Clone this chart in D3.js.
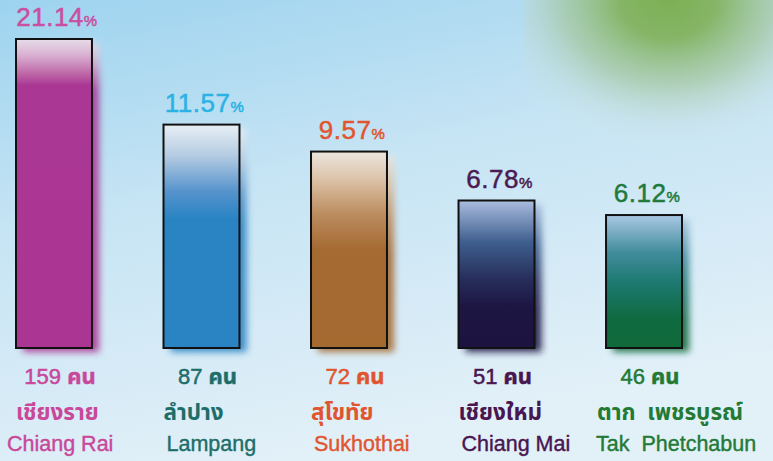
<!DOCTYPE html>
<html>
<head>
<meta charset="utf-8">
<script src="https://cdn.jsdelivr.net/npm/d3@7"></script>
<style>
  html, body { margin: 0; padding: 0; }
  body { width: 773px; height: 461px; overflow: hidden; }
</style>
</head>
<body>
<div id="chart"></div>
<script>
// data
const provincesEn = ["Chiang Rai", "Lampang", "Sukhothai", "Chiang Mai", "Tak  Phetchabun"];
const provincesTh = ["เชียงราย", "ลำปาง", "สุโขทัย", "เชียงใหม่", "ตาก  เพชรบูรณ์"];
const percents = [21.14, 11.57, 9.57, 6.78, 6.12];
const counts = [159, 87, 72, 51, 46];

// palette per bar
const labelColors = ["#c94fa0", "#2ab2e4", "#e0552f", "#4a1a52", "#1f7a3c"];
const nameColors = ["#c8489a", "#1d6e69", "#e0552f", "#481650", "#237a35"];
const barStops = [
    [[0, "#e7dce8"], [0.05, "#d9b3d3"], [0.11, "#bf6aa9"], [0.15, "#ab3794"], [1, "#aa3593"]],
    [[0, "#e8eff5"], [0.14, "#b4cbe2"], [0.3, "#5593cc"], [0.42, "#2a84c4"], [1, "#2a84c3"]],
    [[0, "#ebe6de"], [0.14, "#dcc3a8"], [0.32, "#bb8c5e"], [0.5, "#a56a32"], [1, "#a56a30"]],
    [[0, "#aabdde"], [0.28, "#3f5f8f"], [0.52, "#28305d"], [0.72, "#1d1542"], [1, "#1c1340"]],
    [[0, "#aac8e4"], [0.28, "#418c9c"], [0.5, "#1e7a72"], [0.78, "#0f6a40"], [1, "#106a3a"]]
];

const width = 773;
const height = 461;
const baseY = 348;

const svg = d3.select("#chart").append("svg")
    .attr("width", width)
    .attr("height", height)
    .attr("viewBox", `0 0 ${width} ${height}`);

const defs = svg.append("defs");

// background
const bg = defs.append("linearGradient").attr("id", "bg")
    .attr("x1", 0).attr("y1", 0).attr("x2", 0.35).attr("y2", 1);
bg.append("stop").attr("offset", 0).attr("stop-color", "#9dd3ef");
bg.append("stop").attr("offset", 0.45).attr("stop-color", "#c6e4f4");
bg.append("stop").attr("offset", 1).attr("stop-color", "#e2f0f8");

const blob = defs.append("radialGradient").attr("id", "blob")
    .attr("gradientUnits", "userSpaceOnUse")
    .attr("cx", 668).attr("cy", 0).attr("r", 190)
    .attr("gradientTransform", "translate(668,0) scale(1,0.8) translate(-668,0)");
blob.append("stop").attr("offset", 0).attr("stop-color", "#7cb054").attr("stop-opacity", 1);
blob.append("stop").attr("offset", 0.25).attr("stop-color", "#82b35e").attr("stop-opacity", 0.95);
blob.append("stop").attr("offset", 0.55).attr("stop-color", "#a2c496").attr("stop-opacity", 0.65);
blob.append("stop").attr("offset", 0.8).attr("stop-color", "#c2dbd2").attr("stop-opacity", 0.3);
blob.append("stop").attr("offset", 1).attr("stop-color", "#d4e9f0").attr("stop-opacity", 0);

svg.append("rect").attr("width", width).attr("height", height).attr("fill", "url(#bg)");
svg.append("rect")
    .attr("x", 524).attr("y", 0).attr("width", width - 524).attr("height", 160)
    .attr("fill", "url(#blob)");

const shadow = defs.append("filter").attr("id", "shadow")
    .attr("x", "-30%").attr("y", "-10%").attr("width", "160%").attr("height", "130%");
shadow.append("feGaussianBlur").attr("stdDeviation", 3.5);

barStops.forEach((stops, i) => {
    const g = defs.append("linearGradient").attr("id", `bar${i}`)
        .attr("x1", 0).attr("y1", 0).attr("x2", 0).attr("y2", 1);
    stops.forEach(([o, c]) => g.append("stop").attr("offset", o).attr("stop-color", c));
});

const x = d3.scaleBand()
    .domain(provincesEn)
    .range([16, 682])
    .paddingInner(0.485)
    .paddingOuter(0);

// bar heights in the picture follow the values on a compressed scale
const y = d3.scaleLog()
    .domain([2.4, 21.14])
    .range([baseY, 39]);

const rows = provincesEn.map((en, i) => ({
    en, th: provincesTh[i], pct: percents[i], count: counts[i], i
}));

const bars = svg.append("g").selectAll("g").data(rows).join("g");

bars.append("rect")
    .attr("x", d => x(d.en) + 7)
    .attr("y", d => y(d.pct) + 4)
    .attr("width", x.bandwidth())
    .attr("height", d => baseY - y(d.pct))
    .attr("fill", d => `url(#bar${d.i})`)
    .attr("opacity", 0.9)
    .attr("filter", "url(#shadow)");

bars.append("rect")
    .attr("x", d => x(d.en))
    .attr("y", d => y(d.pct))
    .attr("width", x.bandwidth())
    .attr("height", d => baseY - y(d.pct))
    .attr("fill", d => `url(#bar${d.i})`)
    .attr("stroke", "#111")
    .attr("stroke-width", 2);

// percent labels
const pct = bars.append("text")
    .attr("x", d => x(d.en) + x.bandwidth() / 2 + 3)
    .attr("y", d => y(d.pct) - 13)
    .attr("text-anchor", "middle")
    .attr("fill", d => labelColors[d.i])
    .attr("stroke", d => labelColors[d.i])
    .attr("stroke-width", 0.5)
    .style("font-family", "'Liberation Sans', Arial, sans-serif")
    .style("font-size", "26px")
    .style("letter-spacing", "0.5px");
pct.append("tspan").text(d => d.pct.toFixed(2));
pct.append("tspan").style("font-size", "15px").text("%");

const thaiFont = "'Noto Sans Thai', 'Noto Sans', 'DejaVu Sans', sans-serif";

// counts
const cnt = bars.append("text")
    .attr("x", d => x(d.en) + x.bandwidth() / 2 + 6)
    .attr("y", 384)
    .attr("text-anchor", "middle")
    .attr("fill", d => nameColors[d.i])
    .attr("stroke", d => nameColors[d.i])
    .attr("stroke-width", 0.5);
cnt.append("tspan")
    .style("font-family", "'Liberation Sans', Arial, sans-serif")
    .style("font-size", "22px")
    .text(d => `${d.count} `);
cnt.append("tspan")
    .style("font-family", thaiFont)
    .style("font-weight", "bold")
    .style("font-size", "22px")
    .text("คน");

// thai names
bars.append("text")
    .attr("x", d => x(d.en) + (d.i === 4 ? -9 : 0))
    .attr("y", 420)
    .attr("fill", d => nameColors[d.i])
    .style("font-family", thaiFont)
    .style("font-weight", "bold")
    .style("font-size", "22.5px")
    .style("white-space", "pre")
    .text(d => d.th);

// english names
bars.append("text")
    .attr("x", d => x(d.en) + (d.i === 0 ? -9 : d.i === 4 ? -10 : 3))
    .attr("y", 451)
    .attr("fill", d => nameColors[d.i])
    .attr("stroke", d => nameColors[d.i])
    .attr("stroke-width", 0.4)
    .style("font-family", "'Liberation Sans', Arial, sans-serif")
    .style("font-size", "21.5px")
    .style("white-space", "pre")
    .text(d => d.en);
</script>
</body>
</html>
